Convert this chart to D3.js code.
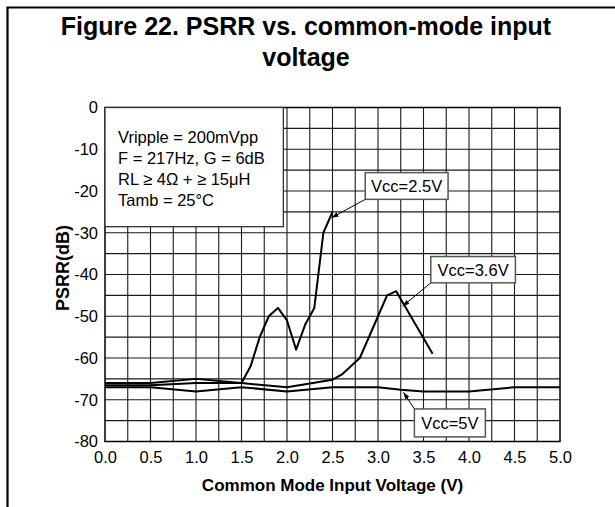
<!DOCTYPE html>
<html>
<head>
<meta charset="utf-8">
<script src="https://cdn.jsdelivr.net/npm/d3@7/dist/d3.min.js"></script>
<style>
  body { margin: 0; background: #fff; }
  svg { font-family: "Liberation Sans", Arial, sans-serif; }
</style>
</head>
<body>
<svg width="615" height="507"></svg>
<script>
// curve data (V, dB)
var vcc25 = [[0, -66], [0.5, -66], [1.0, -65], [1.5, -66], [1.6, -62], [1.7, -55], [1.8, -50],
             [1.9, -48], [2.0, -51], [2.1, -58], [2.2, -52], [2.3, -48], [2.4, -30], [2.5, -25]];
var vcc36 = [[0, -66.5], [0.5, -66.5], [1.0, -66], [1.5, -66], [2.0, -67], [2.5, -65.2], [2.6, -64],
             [2.8, -60], [3.0, -50], [3.1, -45], [3.2, -44], [3.6, -59]];
var vcc5 = [[0, -67], [0.5, -67], [1.0, -68], [1.5, -67], [2.0, -68], [2.5, -67], [3.0, -67],
            [3.25, -67.6], [3.5, -68], [4.0, -68], [4.5, -67], [5.0, -67]];

var xTicks = [0, 0.5, 1, 1.5, 2, 2.5, 3, 3.5, 4, 4.5, 5];
var yTicks = [0, -10, -20, -30, -40, -50, -60, -70, -80];

// labels: box corner (x0,y0)-(x1,y1) and arrow target, in data units
var labels = [
  {text: "Vcc=2.5V", x0: 2.86, x1: 3.77, y0: -15.6, y1: -22.0, tx: 2.49, ty: -26.4},
  {text: "Vcc=3.6V", x0: 3.58, x1: 4.51, y0: -35.7, y1: -42.0, tx: 3.27, ty: -47.6},
  {text: "Vcc=5V",   x0: 3.40, x1: 4.18, y0: -72.2, y1: -78.9, tx: 3.28, ty: -68.2}
];
var conditions = ["Vripple = 200mVpp", "F = 217Hz, G = 6dB", "RL \u2265 4\u03A9 + \u2265 15\u03BCH", "Tamb = 25\u00B0C"];

var svg = d3.select("svg"),
    margin = {top: 107.5, right: 55, bottom: 65.5, left: 105},
    width = +svg.attr("width") - margin.left - margin.right,
    height = +svg.attr("height") - margin.top - margin.bottom;

// frame
svg.append("path")
    .attr("d", "M7.5,507 L7.5,7.5 L615,7.5")
    .attr("fill", "none")
    .attr("stroke", "#000")
    .attr("stroke-width", 2.2);

// title
var title = svg.append("text")
    .attr("text-anchor", "middle")
    .style("font-weight", "bold")
    .style("font-size", "25px");
title.append("tspan").attr("x", 306).attr("y", 35).text("Figure 22. PSRR vs. common-mode input");
title.append("tspan").attr("x", 306).attr("y", 66).text("voltage");

var x = d3.scaleLinear().domain([0, 5]).range([0, width]);
var y = d3.scaleLinear().domain([-80, 0]).range([height, 0]);

var focus = svg.append("g")
    .attr("transform", "translate(" + margin.left + "," + margin.top + ")");

// grid every 0.25 V and 5 dB
focus.append("g")
    .attr("class", "grid")
    .selectAll("line.v")
    .data(d3.range(1, 20).map(function(i) { return i * 0.25; }))
    .enter().append("line")
    .attr("x1", function(d) { return x(d); })
    .attr("x2", function(d) { return x(d); })
    .attr("y1", 0).attr("y2", height)
    .attr("stroke", "#1a1a1a").attr("stroke-width", 1.1);

focus.append("g")
    .attr("class", "grid")
    .selectAll("line.h")
    .data(d3.range(1, 16).map(function(i) { return -i * 5; }))
    .enter().append("line")
    .attr("y1", function(d) { return y(d); })
    .attr("y2", function(d) { return y(d); })
    .attr("x1", 0).attr("x2", width)
    .attr("stroke", "#1a1a1a").attr("stroke-width", 1.1);

focus.append("rect")
    .attr("width", width).attr("height", height)
    .attr("fill", "none").attr("stroke", "#000").attr("stroke-width", 1.5);

// axes
var xAxis = d3.axisBottom(x).tickValues(xTicks).tickSize(0).tickPadding(10).tickFormat(d3.format(".1f"));
var yAxis = d3.axisLeft(y).tickValues(yTicks).tickSize(0).tickPadding(7)
    .tickFormat(function(d) { return String(d); });

var gx = focus.append("g")
    .attr("transform", "translate(0," + height + ")")
    .call(xAxis);
var gy = focus.append("g").call(yAxis);

[gx, gy].forEach(function(g) {
  g.select(".domain").remove();
  g.selectAll("text").style("font-size", "16.5px").attr("fill", "#000")
      .style("font-family", "'Liberation Sans', Arial, sans-serif");
});

// axis titles
svg.append("text")
    .attr("x", margin.left + width / 2)
    .attr("y", 491)
    .attr("text-anchor", "middle")
    .style("font-weight", "bold")
    .style("font-size", "17px")
    .text("Common Mode Input Voltage (V)");

svg.append("text")
    .attr("transform", "translate(68.5,268) rotate(-90)")
    .attr("text-anchor", "middle")
    .style("font-weight", "bold")
    .style("font-size", "18px")
    .text("PSRR(dB)");

// curves
var line = d3.line()
    .x(function(d) { return x(d[0]); })
    .y(function(d) { return y(d[1]); });

[vcc25, vcc36, vcc5].forEach(function(s) {
  focus.append("path")
      .datum(s)
      .attr("d", line)
      .attr("fill", "none")
      .attr("stroke", "#000")
      .attr("stroke-width", 2)
      .attr("stroke-linejoin", "round");
});

// conditions box
var cb = focus.append("g");
cb.append("rect")
    .attr("x", x(0)).attr("y", y(0))
    .attr("width", x(1.96) - x(0))
    .attr("height", y(-28.55) - y(0))
    .attr("fill", "#fff").attr("stroke", "#333").attr("stroke-width", 1.3);
cb.selectAll("text")
    .data(conditions)
    .enter().append("text")
    .attr("x", 13)
    .attr("y", function(d, i) { return 35.5 + i * 21; })
    .style("font-size", "16.5px")
    .text(function(d) { return d; });

// arrow marker
svg.append("defs").append("marker")
    .attr("id", "arr")
    .attr("viewBox", "0 0 10 10")
    .attr("refX", 10).attr("refY", 5)
    .attr("markerWidth", 7).attr("markerHeight", 7)
    .attr("orient", "auto")
    .append("path")
    .attr("d", "M0,1.5 L10,5 L0,8.5 Z")
    .attr("fill", "#000");

// series labels
var lg = focus.selectAll("g.lab")
    .data(labels)
    .enter().append("g").attr("class", "lab");

lg.append("line")
    .attr("x1", function(d) { return x(d.x0); })
    .attr("y1", function(d) { return d.ty > d.y0 ? y(d.y0) : y(d.y1); })
    .attr("x2", function(d) { return x(d.tx); })
    .attr("y2", function(d) { return y(d.ty); })
    .attr("stroke", "#000").attr("stroke-width", 1)
    .attr("marker-end", "url(#arr)");

lg.append("rect")
    .attr("x", function(d) { return x(d.x0); })
    .attr("y", function(d) { return y(d.y0); })
    .attr("width", function(d) { return x(d.x1) - x(d.x0); })
    .attr("height", function(d) { return y(d.y1) - y(d.y0); })
    .attr("fill", "#fff").attr("stroke", "#555").attr("stroke-width", 1.5);

lg.append("text")
    .attr("x", function(d) { return (x(d.x0) + x(d.x1)) / 2; })
    .attr("y", function(d) { return (y(d.y0) + y(d.y1)) / 2 + 6; })
    .attr("text-anchor", "middle")
    .style("font-size", "16.5px")
    .text(function(d) { return d.text; });
</script>
</body>
</html>
